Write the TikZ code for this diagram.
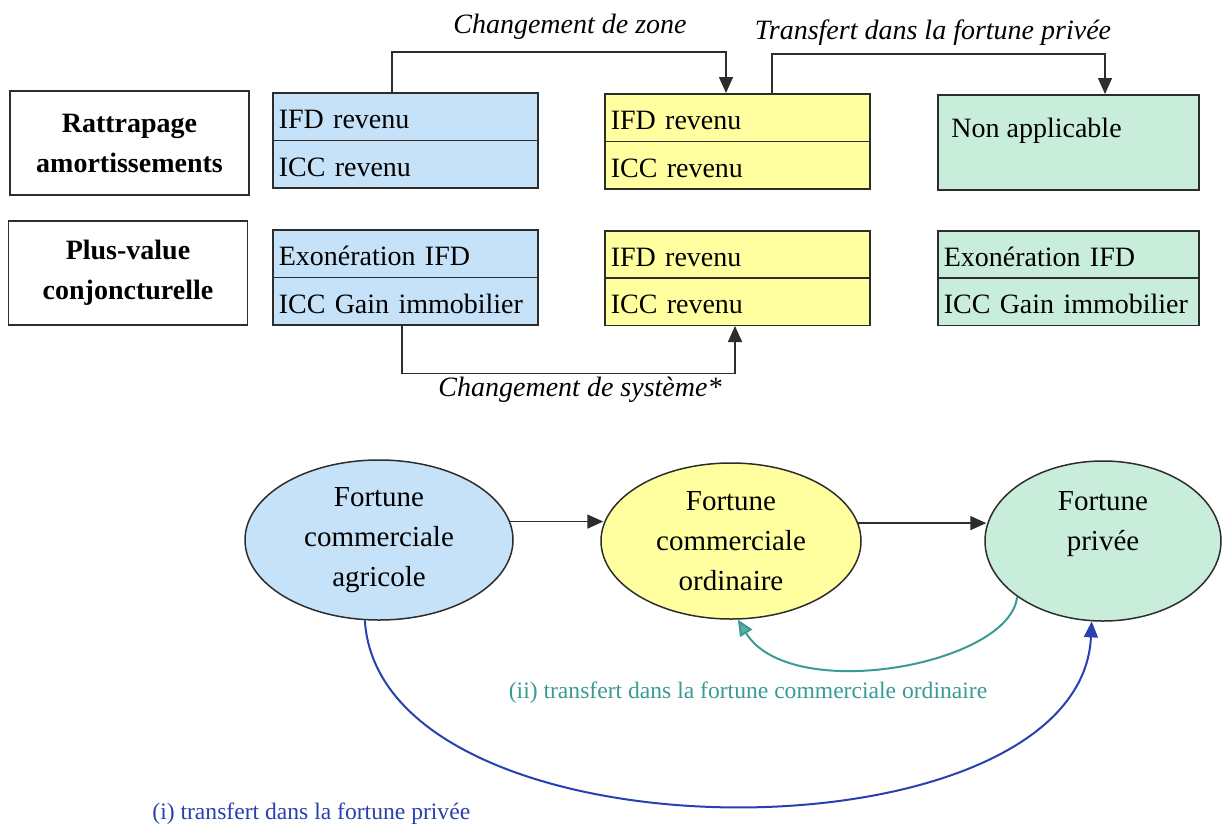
\documentclass[tikz,border=0pt]{standalone}
\usepackage{fontspec}
\setmainfont{Liberation Serif}
\usetikzlibrary{shapes.geometric,arrows.meta,calc}
\definecolor{blueF}{RGB}{198,226,248}
\definecolor{yelF}{RGB}{255,255,160}
\definecolor{grnF}{RGB}{201,237,219}
\definecolor{lineC}{RGB}{45,45,45}
\definecolor{tealC}{RGB}{58,154,148}
\definecolor{tealT}{RGB}{100,170,160}
\definecolor{blueC}{RGB}{40,64,176}
\begin{document}
\begin{tikzpicture}[x=0.5pt,y=-0.5pt,
  cell/.style={draw=lineC, line width=0.75pt, anchor=north west, minimum height=23.75pt,
    text width=126.5pt, inner xsep=3pt, inner ysep=0pt, align=left,
    text height=13pt, text depth=1pt,
    font=\fontsize{14}{16}\selectfont},
  gcell/.style={cell, fill=grnF, text width=124.5pt},
  labbox/.style={draw=lineC, line width=0.75pt, minimum width=119.5pt, minimum height=52pt,
    align=center, font=\fontsize{14}{20}\selectfont\bfseries},
  ital/.style={font=\fontsize{14}{16}\selectfont\itshape, inner sep=1pt},
  conn/.style={draw=lineC, line width=0.75pt, -{Triangle[length=8pt,width=7pt]}},
  ell/.style={ellipse, draw=lineC, line width=0.75pt, inner sep=0pt, align=center,
    font=\fontsize{14.5}{20}\selectfont},
  tcurve/.style={draw=tealC, line width=1pt, -{Triangle[length=8pt,width=7pt,fill=tealT]}},
  bcurve/.style={draw=blueC, line width=1pt, -{Triangle[length=8pt,width=7pt]}},
  small/.style={font=\fontsize{11.8}{13}\selectfont, inner sep=1pt}
]
\useasboundingbox (0,0) rectangle (1226,825);
\fill[white] (0,0) rectangle (1226,825);

% row labels
\node[labbox] (lRat) at (129.5,143) {Rattrapage\\amortissements};
\node[labbox] (lPlus) at (128,273) {Plus-value\\conjoncturelle};

% row 1
\node[cell, fill=blueF] (bA1) at (272,92) {IFD revenu};
\node[cell, fill=blueF] (bA2) at (272,139.5) {ICC revenu};
\node[cell, fill=yelF] (yA1) at (604,93) {IFD revenu};
\node[cell, fill=yelF] (yA2) at (604,140.5) {ICC revenu};
\node[gcell, minimum height=47.5pt, text height=0pt, text depth=0pt] (gA) at (937,94) {};
\node[anchor=west, inner sep=0pt, font=\fontsize{14}{16}\selectfont] (gAt) at (951,131) {Non applicable};

% row 2
\node[cell, fill=blueF] (bB1) at (272,229) {Exonération IFD};
\node[cell, fill=blueF] (bB2) at (272,276.5) {ICC Gain immobilier};
\node[cell, fill=yelF] (yB1) at (604,230) {IFD revenu};
\node[cell, fill=yelF] (yB2) at (604,277) {ICC revenu};
\node[gcell] (gB1) at (937,230) {Exonération IFD};
\node[gcell] (gB2) at (937,277) {ICC Gain immobilier};

% top connectors
\draw[conn] ($(bA1.north west)+(120,0)$) -- ++(0,-40) -| ($(yA1.north west)+(122,0)$);
\draw[conn] ($(yA1.north west)+(168,0)$) -- ++(0,-39) -| ($(gA.north west)+(168,0)$);
\draw[conn] ($(bB2.south west)+(130,0)$) -- ++(0,48) -| ($(yB2.south west)+(131,0)$);
\node[ital] (lZone) at (570,27) {Changement de zone};
\node[ital] (lPriv) at (933,33) {Transfert dans la fortune privée};
\node[ital] (lSys) at (580,390) {Changement de système*};

% ellipses
\node[ell, fill=blueF, minimum width=134pt, minimum height=80pt] (eA) at (379,540) {Fortune\\commerciale\\agricole};
\node[ell, fill=yelF, minimum width=130pt, minimum height=78pt] (eB) at (731,541) {Fortune\\commerciale\\ordinaire};
\node[ell, fill=grnF, minimum width=118pt, minimum height=80pt] (eC) at (1103,541) {Fortune\\privée\\\mbox{}};

\draw[conn] (eA.8) -- ($(eA.8 -| eB.west)+(3,0)$);
\draw[conn] (eB.8) -- ($(eB.8 -| eC.west)+(2,0)$);

\draw[tcurve] (eC.213) .. controls (1010,665) and (790,705) .. (eB.275);
\draw[bcurve] (eA.260) .. controls (380,867) and (1080,867) .. (eC.262);

\node[small, text=tealC] (lii) at (748,693) {(ii) transfert dans la fortune commerciale ordinaire};
\node[small, text=blueC, anchor=west] (li) at (150,814) {(i) transfert dans la fortune privée};
\end{tikzpicture}
\end{document}
